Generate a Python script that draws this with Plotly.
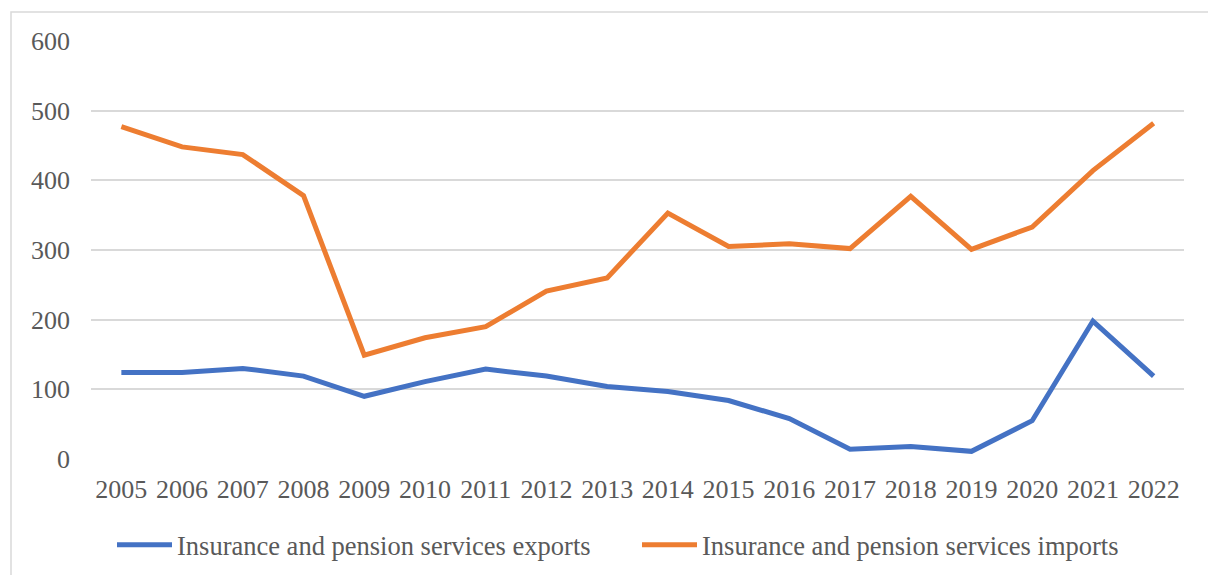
import plotly.graph_objects as go

years = ["2005", "2006", "2007", "2008", "2009", "2010", "2011", "2012", "2013",
         "2014", "2015", "2016", "2017", "2018", "2019", "2020", "2021", "2022"]
exports = [124, 124, 130, 119, 90, 111, 129, 119, 104, 97, 84, 58, 14, 18, 11, 55, 198, 119]
imports = [477, 448, 437, 378, 149, 174, 190, 241, 260, 353, 305, 309, 302, 377, 301, 333, 414, 482]
y_ticks = [0, 100, 200, 300, 400, 500, 600]

names = ["Insurance and pension services exports", "Insurance and pension services imports"]
colors = ["#4472C4", "#ED7D31"]

FONT = "Liberation Serif"
GREY = "#595959"

fig = go.Figure()
for name, vals, col in zip(names, [exports, imports], colors):
    fig.add_trace(go.Scatter(x=years, y=vals, mode="lines", name=name,
                             line=dict(color=col, width=5, shape="linear"),
                             hoverinfo="x+y"))

L, R, T, B = 91, 24, 41, 116
W, H = 1208, 575
pw, ph = W - L - R, H - T - B

def px_x(v):
    return (v - L) / pw

def px_y(v):
    return (H - B - v) / ph

fig.update_layout(
    width=W, height=H,
    margin=dict(l=L, r=R, t=T, b=B, autoexpand=False),
    paper_bgcolor="white", plot_bgcolor="white",
    font=dict(family=FONT, color=GREY, size=26),
    showlegend=True,
    legend=dict(orientation="h", x=px_x(112), xanchor="left",
                y=px_y(545), yanchor="middle",
                font=dict(family=FONT, size=26.5, color=GREY),
                entrywidth=455, itemwidth=55,
                bgcolor="rgba(0,0,0,0)", borderwidth=0),
    xaxis=dict(type="category", range=[-0.5, 17.5], showgrid=False,
               showline=False, zeroline=False, ticks="",
               tickfont=dict(family=FONT, size=26, color=GREY),
               ticklabelstandoff=12, fixedrange=True),
    yaxis=dict(range=[0, 600], tickvals=y_ticks, showgrid=True,
               gridcolor="#D9D9D9", gridwidth=1.5, zeroline=False,
               showline=False, ticks="",
               tickfont=dict(family=FONT, size=26, color=GREY),
               ticklabelstandoff=20, fixedrange=True),
    shapes=[dict(type="rect", xref="paper", yref="paper",
                 x0=px_x(11), x1=px_x(1230), y0=px_y(600), y1=px_y(12),
                 line=dict(color="#D9D9D9", width=1.5), fillcolor="rgba(0,0,0,0)",
                 layer="below")],
)

fig.write_html("out.html")
